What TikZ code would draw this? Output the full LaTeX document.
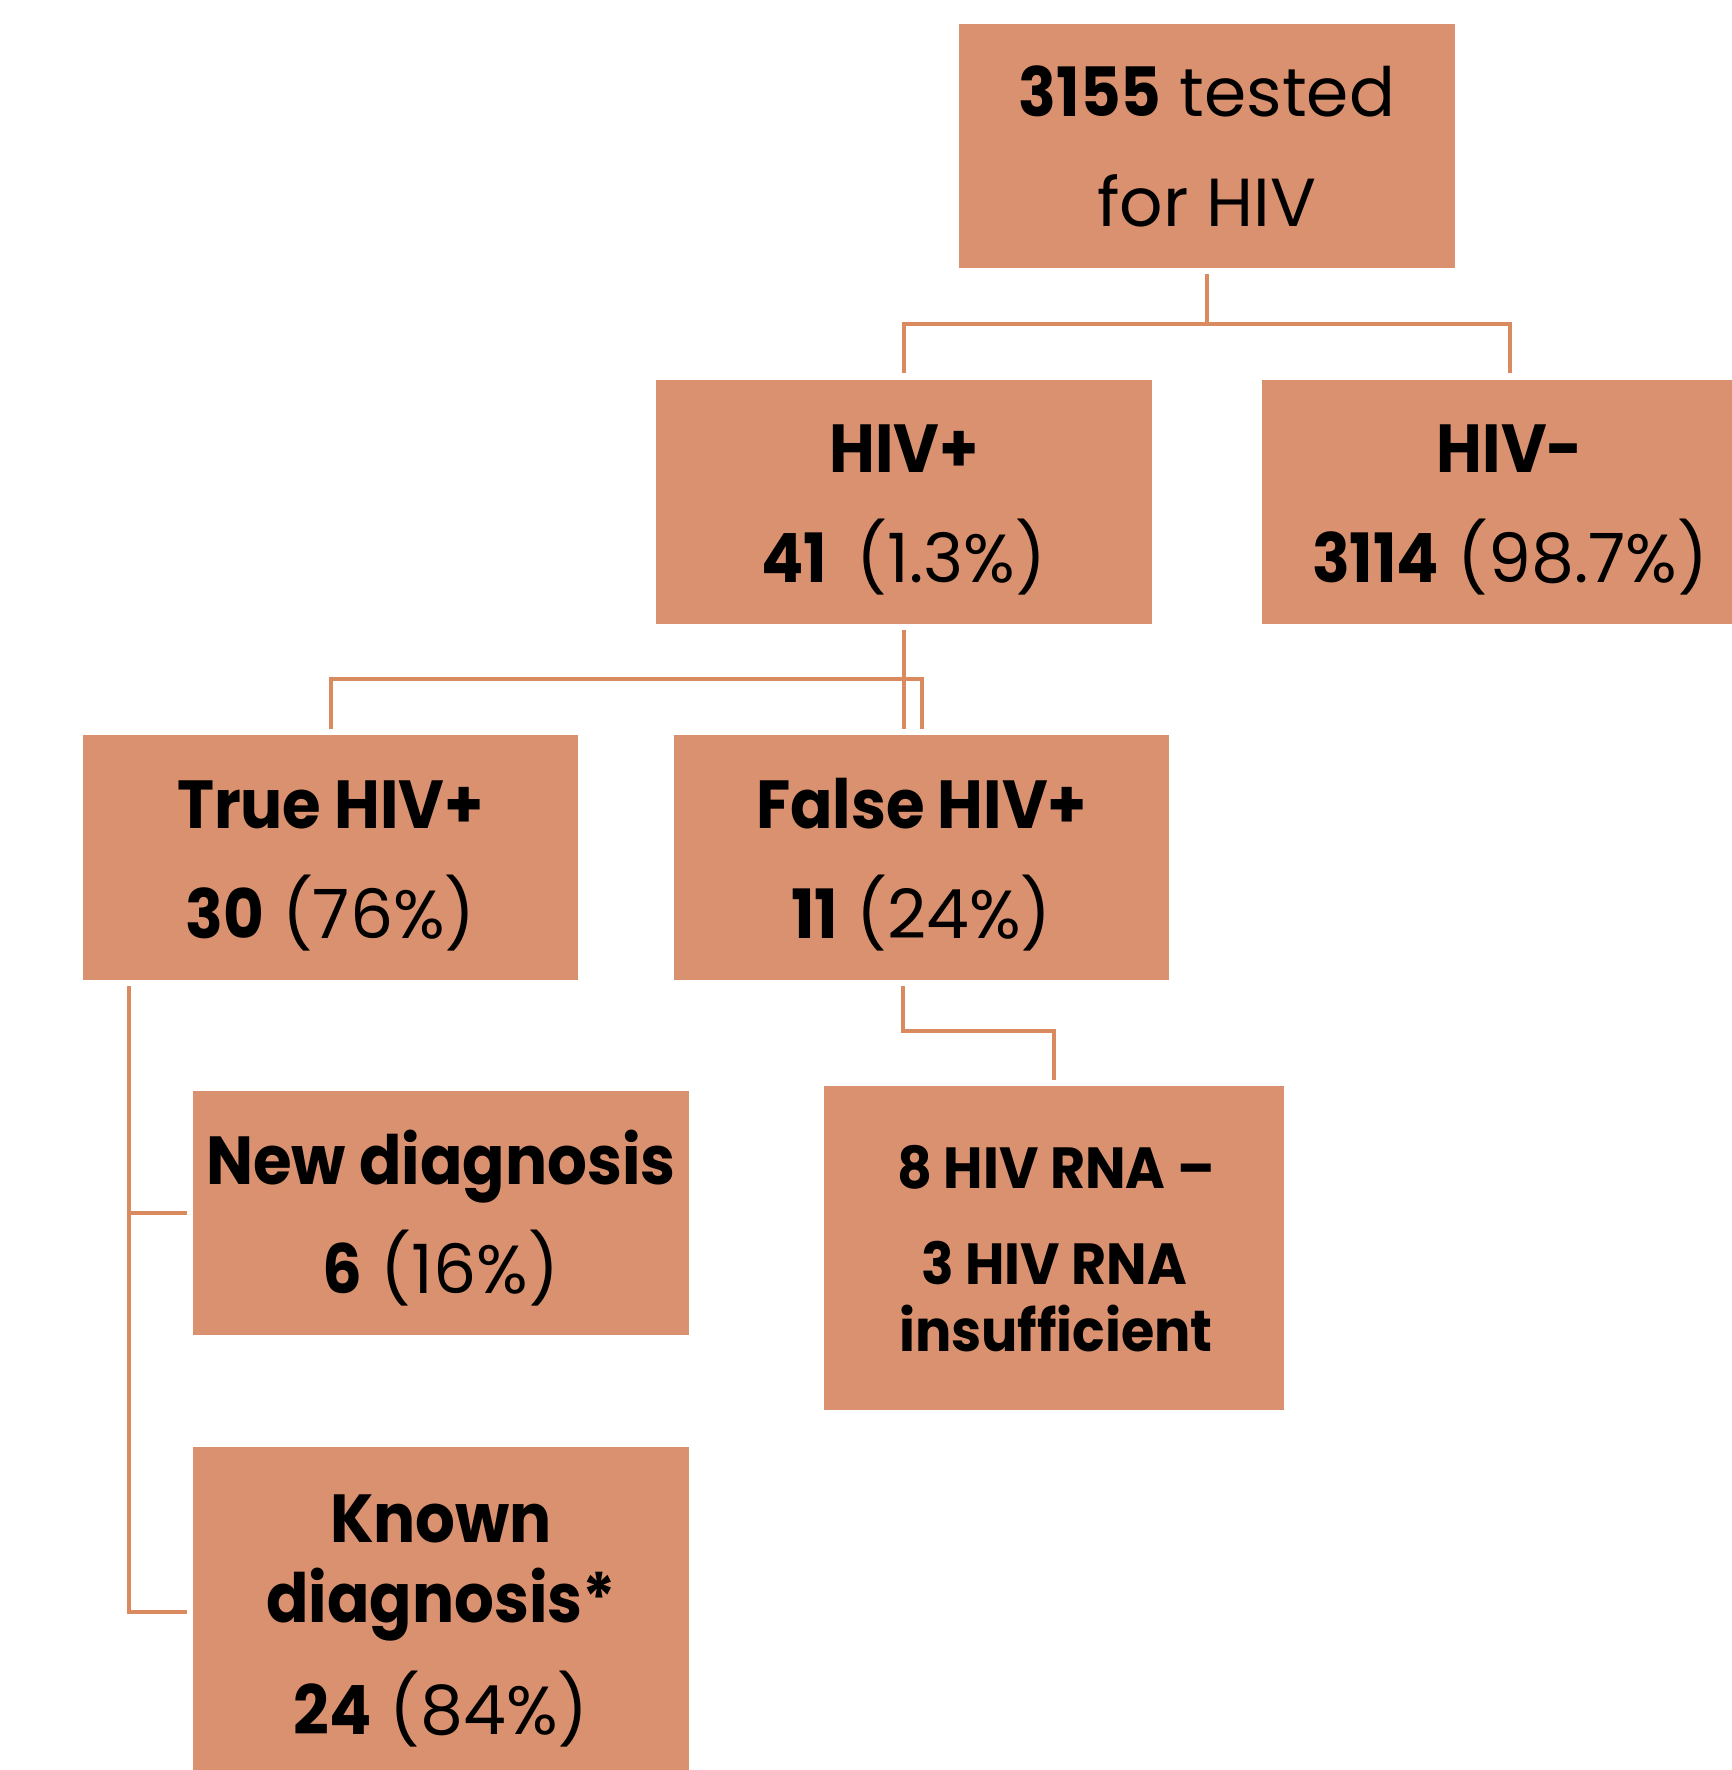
\documentclass[tikz,border=0pt]{standalone}
\usepackage{fontspec}
\setmainfont{Poppins}[BoldFeatures={FakeStretch=0.92}]
\newfontfamily\rnafont[FakeStretch=0.93]{Poppins}
\definecolor{boxc}{HTML}{D9916F}
\definecolor{linec}{HTML}{D98A5E}
\tikzset{
  box/.style={rectangle, fill=boxc, draw=white, line width=0.6pt, inner sep=0pt,
    minimum width=248.5pt, minimum height=123pt},
  txt/.style={anchor=base, inner sep=0pt, font=\fontsize{34}{40}\selectfont},
  rtxt/.style={anchor=base, inner sep=0pt, font=\rnafont\fontsize{29}{34}\selectfont\bfseries},
  conn/.style={draw=linec, line width=2pt}
}
\begin{document}
\begin{tikzpicture}[x=0.5pt,y=-0.5pt]
\useasboundingbox (0,0) rectangle (1731,1770);
% boxes
\node[box] (top) at (1207,146) {};
\node[box] (hivp) at (904,502) {};
\node[box] (hivn) at (1510,502) {};
\node[box] (true) at (330.5,857.5) {};
\node[box] (fals) at (921.5,857.5) {};
\node[box] (new) at (441,1213) {};
\node[box, minimum width=230.5pt, minimum height=162.5pt] (rna) at (1054,1248) {};
\node[box, minimum height=166pt] (known) at (441,1612) {};
% texts
\node[txt] (t1) at (1207,117) {\textbf{3155} tested};
\node[txt] (t2) at (1207,227) {for HIV};
\node[txt] (p1) at (904,473) {\textbf{HIV+}};
\node[txt] (p2) at (904,582) {\textbf{41} \,(1.3\%)};
\node[txt] (n1) at (1510,473) {\textbf{HIV-}};
\node[txt] (n2) at (1510,582) {\textbf{3114} (98.7\%)};
\node[txt] (tr1) at (330.5,828) {\textbf{True HIV+}};
\node[txt] (tr2) at (330.5,938) {\textbf{30} (76\%)};
\node[txt] (f1) at (921.5,828) {\textbf{False HIV+}};
\node[txt] (f2) at (921.5,938) {\textbf{11} (24\%)};
\node[txt] (nw1) at (441,1184) {\textbf{New diagnosis}};
\node[txt] (nw2) at (441,1293) {\textbf{6} (16\%)};
\node[txt] (k1) at (441,1542) {\textbf{Known}};
\node[txt] (k2) at (441,1622) {\textbf{diagnosis*}};
\node[txt] (k3) at (441,1734) {\textbf{24} (84\%)};
\node[rtxt] (r1) at (1056,1188) {8 HIV RNA –};
\node[rtxt] (r2) at (1054,1284) {3 HIV RNA};
\node[rtxt] (r3) at (1056,1351) {insufficient};
% connectors
\coordinate (j1) at (1207,324);
\coordinate (j2) at (0,679);
\coordinate (j4) at (0,1031);
\draw[conn] ([yshift=-2pt]top.south) -- (j1);
\draw[conn] ([yshift=2.5pt]hivp.north) |- (j1);
\draw[conn] ([yshift=2.5pt]hivn.north) |- (j1);
\draw[conn] ([yshift=-2pt]hivp.south) -- ([yshift=2.5pt]hivp.south |- fals.north);
\draw[conn] ([yshift=2.5pt]true.north) -- (true.north |- j2) -| ([yshift=2.5pt]fals.north);
\coordinate (tv) at ([xshift=24pt,yshift=-2.5pt]true.south west);
\draw[conn] (tv) |- ([xshift=-2.5pt]new.west);
\draw[conn] (tv) |- ([xshift=-2.5pt]known.west);
\draw[conn] ([xshift=-9.5pt,yshift=-2.5pt]fals.south) |- (j4 -| rna.north) -- ([yshift=2.5pt]rna.north);
\end{tikzpicture}
\end{document}
